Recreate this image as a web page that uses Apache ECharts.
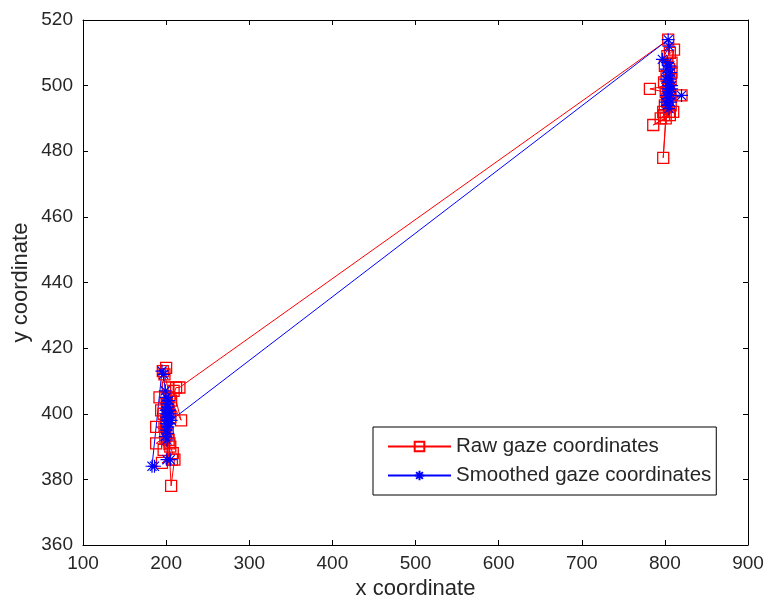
<!DOCTYPE html>
<html>
<head>
<meta charset="utf-8">
<script src="https://cdn.jsdelivr.net/npm/echarts@6/dist/echarts.min.js"></script>
<style>
  html, body { margin: 0; padding: 0; background: #fff; }
  #chart { width: 768px; height: 601px; }
</style>
</head>
<body>
<div id="chart"></div>
<script>
// Raw gaze samples: first fixation (left), then the saccade to the second fixation (right)
const rawX = [196, 200, 198, 202, 199, 192, 201, 197, 203, 194, 200, 205, 198, 188, 202, 199, 188, 204, 197, 205,
              208, 195, 207, 210, 206, 203, 200, 202, 204, 209, 218, 206, 212, 216,
              804, 806, 803, 811, 808, 800, 805, 802, 807, 799, 804, 782, 801, 806, 820, 803, 800, 807, 798, 805,
              810, 799, 795, 806, 786, 801, 798, 803, 805, 808];
const rawY = [413, 414, 412, 408, 405, 405, 403, 400, 401, 401, 398, 399, 396, 396, 394, 393, 391, 391, 389, 390,
              388, 385, 386, 386, 378, 392, 397, 402, 405, 407, 398, 404, 408, 408,
              514, 510, 509, 511, 507, 506, 505, 503, 502, 501, 500, 499, 498, 497, 497, 495, 494, 494, 492, 492,
              492, 491, 490, 491, 488, 490, 478, 496, 499, 504];

// Smoothed gaze samples
const smoothX = [186, 183, 195, 197, 199, 200, 201, 200, 199, 201, 200, 202, 201, 200, 199, 201, 202, 203, 201, 202,
                 203, 201, 205, 202, 204, 203, 205, 206,
                 804, 805, 797, 803, 806, 802, 807, 804, 801, 805, 808, 803, 806, 802, 820, 805, 807, 803, 805, 801,
                 806, 808, 804, 806];
const smoothY = [384, 384, 413, 412, 407, 405, 403, 401, 400, 399, 397, 396, 398, 395, 393, 392, 394, 397, 400, 402,
                 404, 386, 386, 399, 401, 398, 400, 398,
                 514, 512, 508, 507, 506, 505, 504, 503, 502, 501, 500, 499, 498, 497, 497, 496, 495, 494, 493, 495,
                 497, 499, 500, 502];

const xTicks = { min: 100, max: 900, interval: 100 };
const yTicks = { min: 360, max: 520, interval: 20 };

const seriesNames = ['Raw gaze coordinates', 'Smoothed gaze coordinates'];

const pairs = (xs, ys) => xs.map((x, i) => [x, ys[i]]);

const FONT = '"Liberation Sans", Arial, sans-serif';
const TXT = '#262626';
const asterisk = 'path://M5,0 L5,10 M0,5 L10,5 M1.5,1.5 L8.5,8.5 M8.5,1.5 L1.5,8.5';

const baseAxis = {
  axisLine: { show: true, onZero: false, lineStyle: { color: '#000', width: 1 } },
  axisTick: { show: true, inside: true, length: 5, lineStyle: { color: '#000' } },
  splitLine: { show: false }
};

const chart = echarts.init(document.getElementById('chart'), null, { renderer: 'canvas' });
chart.setOption({
  animation: false,
  backgroundColor: '#fff',
  textStyle: { fontFamily: FONT },
  grid: { left: 83, right: 20, top: 20, bottom: 56, containLabel: false, outerBoundsMode: 'none' },
  legend: {
    data: seriesNames,
    orient: 'vertical',
    left: 373,
    top: 427,
    padding: [9, 5, 9, 14],
    itemGap: 8,
    itemWidth: 63,
    itemHeight: 12,
    backgroundColor: '#fff',
    borderColor: '#000',
    borderWidth: 1,
    borderRadius: 0,
    textStyle: { fontFamily: FONT, fontSize: 20.5, color: TXT, padding: [0, 0, 0, 0] }
  },
  xAxis: [
    Object.assign({}, baseAxis, {
      type: 'value', position: 'bottom', min: xTicks.min, max: xTicks.max, interval: xTicks.interval,
      name: 'x coordinate', nameLocation: 'middle', nameGap: 33,
      nameTextStyle: { fontFamily: FONT, fontSize: 22, color: TXT },
      axisLabel: { fontFamily: FONT, fontSize: 19, color: TXT, margin: 9 }
    }),
    Object.assign({}, baseAxis, {
      type: 'value', position: 'top', min: xTicks.min, max: xTicks.max, interval: xTicks.interval,
      axisLabel: { show: false }
    })
  ],
  yAxis: [
    Object.assign({}, baseAxis, {
      type: 'value', position: 'left', min: yTicks.min, max: yTicks.max, interval: yTicks.interval,
      name: 'y coordinate', nameLocation: 'middle', nameGap: 51, nameMoveOverlap: false,
      nameTextStyle: { fontFamily: FONT, fontSize: 22, color: TXT },
      axisLabel: { fontFamily: FONT, fontSize: 19, color: TXT, margin: 10 }
    }),
    Object.assign({}, baseAxis, {
      type: 'value', position: 'right', min: yTicks.min, max: yTicks.max, interval: yTicks.interval,
      axisLabel: { show: false }
    })
  ],
  series: [
    {
      name: seriesNames[0],
      type: 'line',
      data: pairs(rawX, rawY),
      color: '#ff0000',
      symbol: 'rect',
      symbolSize: 11,
      showAllSymbol: true,
      lineStyle: { color: '#ff0000', width: 1 },
      itemStyle: { color: 'rgba(255,255,255,0)', borderColor: '#ff0000', borderWidth: 1.3 },
      emphasis: { disabled: true }
    },
    {
      name: seriesNames[1],
      type: 'line',
      data: pairs(smoothX, smoothY),
      color: '#0000ff',
      symbol: asterisk,
      symbolSize: 13,
      showAllSymbol: true,
      lineStyle: { color: '#0000ff', width: 1 },
      itemStyle: { color: 'rgba(0,0,255,0)', borderColor: '#0000ff', borderWidth: 1.2 },
      emphasis: { disabled: true }
    }
  ]
});
</script>
</body>
</html>
